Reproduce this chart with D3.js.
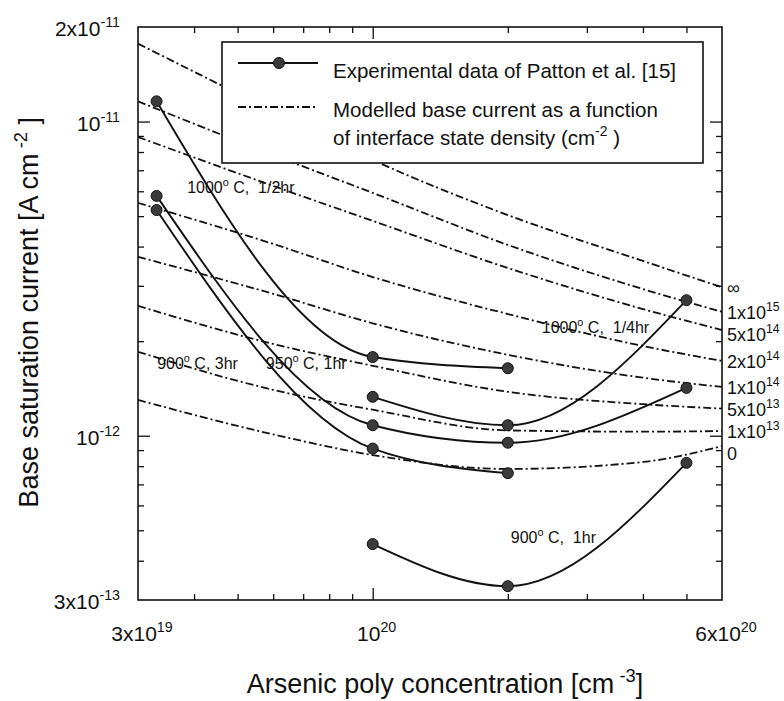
<!DOCTYPE html>
<html lang="en">
<head>
  <meta charset="UTF-8">
  <title>Base saturation current vs arsenic poly concentration</title>
  <style>
    body, html {
      margin: 0;
      padding: 0;
      background: #fff;
    }
    svg text {
      font-family: "Liberation Sans", Arial, Helvetica, sans-serif;
      fill: #111;
      white-space: pre;
    }
  </style>
</head>
<body>
  <svg id="svg" width="784" height="701"></svg>

  <script src="https://cdn.jsdelivr.net/npm/d3@7"></script>
  <script>
    // modelled curves: one row per interface state density, sampled at conc[]
    const conc = [3e19, 6e19, 1e20, 2e20, 4e20, 6e20]
    const densityBase = ['\u221e', '1x10', '5x10', '2x10', '1x10', '5x10', '1x10', '0']
    const densityExp = ['', '15', '14', '14', '14', '13', '13', '']
    const modelCurrents = [
      [1.77e-11, 1.08e-11, 7.55e-12, 5.04e-12, 3.60e-12, 2.97e-12],
      [1.16e-11, 7.83e-12, 5.93e-12, 4.05e-12, 2.93e-12, 2.48e-12],
      [8.93e-12, 6.24e-12, 4.83e-12, 3.42e-12, 2.53e-12, 2.17e-12],
      [5.51e-12, 4.08e-12, 3.20e-12, 2.44e-12, 1.93e-12, 1.73e-12],
      [3.71e-12, 2.83e-12, 2.28e-12, 1.81e-12, 1.53e-12, 1.43e-12],
      [2.59e-12, 1.96e-12, 1.67e-12, 1.38e-12, 1.26e-12, 1.22e-12],
      [1.85e-12, 1.40e-12, 1.21e-12, 1.04e-12, 1.03e-12, 1.035e-12],
      [1.30e-12, 1.01e-12, 8.68e-13, 7.84e-13, 8.25e-13, 9.27e-13]
    ]

    // experimental data (Patton et al.), [concentration, current]
    const exp1000half = [[3.3e19, 1.16e-11], [1e20, 1.78e-12], [2e20, 1.64e-12]]
    const exp1000quarter = [[1e20, 1.33e-12], [2e20, 1.08e-12], [5e20, 2.70e-12]]
    const exp950 = [[3.3e19, 5.80e-12], [1e20, 1.08e-12], [2e20, 9.5e-13], [5e20, 1.42e-12]]
    const exp900three = [[3.3e19, 5.23e-12], [1e20, 9.1e-13], [2e20, 7.6e-13]]
    const exp900one = [[1e20, 4.52e-13], [2e20, 3.32e-13], [5e20, 8.2e-13]]

    // annotation text and the [concentration, current] where it starts
    const notes = [
      { num: '1000', rest: ' C,  1/2hr', at: [3.86e19, 5.93e-12] },
      { num: '900', rest: ' C, 3hr', at: [3.31e19, 1.63e-12] },
      { num: '950', rest: ' C, 1hr', at: [5.78e19, 1.63e-12] },
      { num: '1000', rest: ' C,  1/4hr', at: [2.38e20, 2.12e-12] },
      { num: '900', rest: ' C,  1hr', at: [2.03e20, 4.55e-13] }
    ]

    // axis ticks and labels
    const xMinor = [4e19, 5e19, 6e19, 7e19, 8e19, 9e19, 2e20, 3e20, 4e20, 5e20]
    const xMajor = [1e20]
    const yMinor = [4e-13, 5e-13, 6e-13, 7e-13, 8e-13, 9e-13, 2e-12, 3e-12, 4e-12, 5e-12, 6e-12, 7e-12, 8e-12, 9e-12]
    const yMajor = [1e-12, 1e-11]
    const xLabels = [[3e19, '3x10', '19'], [1e20, '10', '20'], [6e20, '6x10', '20']]
    const yLabels = [[2e-11, '2x10', '-11'], [1e-11, '10', '-11'], [1e-12, '10', '-12'], [3e-13, '3x10', '-13']]

    const margin = { top: 27, right: 62, bottom: 101, left: 138 }
    const width = 784 - margin.left - margin.right
    const height = 701 - margin.top - margin.bottom

    const x = d3.scaleLog().domain([3e19, 6e20]).range([0, width])
    const y = d3.scaleLog().domain([3e-13, 2e-11]).range([height, 0])

    const svg = d3.select('#svg')
    const g = svg.append('g').attr('transform', `translate(${margin.left},${margin.top})`)

    function supText(sel, base, sup, tail, size) {
      sel.attr('font-size', size)
      sel.append('tspan').text(base)
      if (sup) sel.append('tspan').attr('dy', -size * 0.42).attr('font-size', size * 0.68).text(sup)
      if (tail) sel.append('tspan').attr('dy', size * 0.42).text(tail)
      return sel
    }

    g.append('clipPath').attr('id', 'clip')
      .append('rect').attr('width', width).attr('height', height)

    const dashDot = '8,3,2,3'
    const line = d3.line()
      .x(d => x(d[0]))
      .y(d => y(d[1]))
      .curve(d3.curveMonotoneX)

    // modelled curves
    const modelGroup = g.append('g').attr('clip-path', 'url(#clip)')
    modelGroup.selectAll('path')
      .data(modelCurrents)
      .enter()
      .append('path')
      .attr('d', row => line(row.map((v, i) => [conc[i], v])))
      .attr('fill', 'none')
      .attr('stroke', '#111')
      .attr('stroke-width', 1.8)
      .attr('stroke-dasharray', dashDot)

    // experimental curves
    const expSeries = [exp1000half, exp1000quarter, exp950, exp900three, exp900one]
    const expGroup = g.append('g').attr('clip-path', 'url(#clip)')
    expGroup.selectAll('path')
      .data(expSeries)
      .enter()
      .append('path')
      .attr('d', line)
      .attr('fill', 'none')
      .attr('stroke', '#111')
      .attr('stroke-width', 1.9)

    expGroup.selectAll('circle')
      .data(expSeries.flat())
      .enter()
      .append('circle')
      .attr('cx', d => x(d[0]))
      .attr('cy', d => y(d[1]))
      .attr('r', 5.5)
      .attr('fill', '#3a3a3a')
      .attr('stroke', '#111')
      .attr('stroke-width', 1)

    // annotations
    notes.forEach(n => {
      const t = g.append('text')
        .attr('x', x(n.at[0]))
        .attr('y', y(n.at[1]))
      supText(t, n.num, 'o', n.rest, 16)
    })

    // ticks on all four sides, pointing inward
    const tickSides = [
      [d3.axisBottom(x), `translate(0,${height})`, xMinor, xMajor],
      [d3.axisTop(x), 'translate(0,0)', xMinor, xMajor],
      [d3.axisLeft(y), 'translate(0,0)', yMinor, yMajor],
      [d3.axisRight(y), `translate(${width},0)`, yMinor, yMajor]
    ]
    tickSides.forEach(([axis, tr, minor, major]) => {
      [[minor, -6], [major, -12]].forEach(([vals, size]) => {
        const a = g.append('g')
          .attr('transform', tr)
          .call(axis.tickValues(vals).tickSize(size).tickSizeOuter(0).tickFormat(''))
        a.select('.domain').remove()
        a.selectAll('line').attr('stroke', '#111').attr('stroke-width', 1.3)
      })
    })

    // frame
    g.append('rect')
      .attr('width', width)
      .attr('height', height)
      .attr('fill', 'none')
      .attr('stroke', '#111')
      .attr('stroke-width', 1.6)

    // tick labels
    xLabels.forEach(([v, base, sup]) => {
      const t = g.append('text')
        .attr('x', x(v) + 4)
        .attr('y', height + 41)
        .attr('text-anchor', 'middle')
      supText(t, base, sup, '', 21)
    })
    yLabels.forEach(([v, base, sup]) => {
      const t = g.append('text')
        .attr('x', -18)
        .attr('y', y(v) + 9)
        .attr('text-anchor', 'end')
      supText(t, base, sup, '', 21)
    })

    // density labels at the right end of each modelled curve
    const labelY = []
    modelCurrents.forEach((row, i) => {
      let yy = y(row[row.length - 1])
      if (i > 0 && yy - labelY[i - 1] < 22) yy = labelY[i - 1] + 22
      labelY.push(yy)
    })
    densityBase.forEach((b, i) => {
      const t = g.append('text')
        .attr('x', width + 5)
        .attr('y', labelY[i] + 7)
      supText(t, b, densityExp[i], '', 18)
    })

    // axis titles
    const xt = g.append('text')
      .attr('x', width / 2 + 15)
      .attr('y', height + 93)
      .attr('text-anchor', 'middle')
    supText(xt, 'Arsenic poly concentration [cm', ' -3', ']', 27)

    const yt = g.append('text')
      .attr('transform', `translate(${-100},${117 - margin.top}) rotate(-90)`)
      .attr('text-anchor', 'end')
    supText(yt, 'Base saturation current [A cm', ' -2', ' ]', 27)

    // legend
    const legend = g.append('g').attr('transform', `translate(${222 - margin.left},${42 - margin.top})`)
    legend.append('rect')
      .attr('width', 481)
      .attr('height', 121)
      .attr('fill', '#fff')
      .attr('stroke', '#111')
      .attr('stroke-width', 1.6)
    legend.append('line')
      .attr('x1', 16).attr('x2', 96).attr('y1', 21).attr('y2', 21)
      .attr('stroke', '#111').attr('stroke-width', 1.9)
    legend.append('circle')
      .attr('cx', 57).attr('cy', 21).attr('r', 5.5)
      .attr('fill', '#3a3a3a').attr('stroke', '#111')
    legend.append('line')
      .attr('x1', 16).attr('x2', 96).attr('y1', 65).attr('y2', 65)
      .attr('stroke', '#111').attr('stroke-width', 1.8)
      .attr('stroke-dasharray', dashDot)
    legend.append('text').attr('x', 111).attr('y', 36).attr('font-size', 20.5)
      .text('Experimental data of Patton et al. [15]')
    legend.append('text').attr('x', 111).attr('y', 75).attr('font-size', 20.5)
      .text('Modelled base current as a function')
    const l3 = legend.append('text').attr('x', 111).attr('y', 103)
    supText(l3, 'of interface state density (cm', '-2', ' )', 20.5)
  </script>
</body>
</html>
